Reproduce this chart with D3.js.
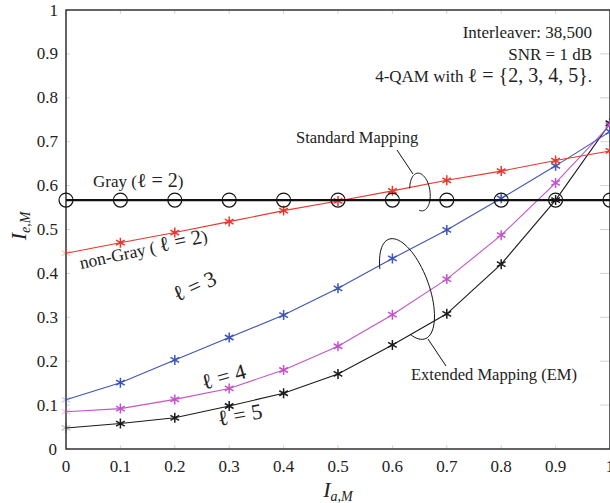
<!DOCTYPE html>
<html>
<head>
<meta charset="utf-8">
<script src="https://cdn.jsdelivr.net/npm/d3@7"></script>
<style>
  body { margin: 0; background: #fff; }
  svg { display: block; }
  text { font-family: "Liberation Serif", "Times New Roman", serif; fill: #222; }
</style>
</head>
<body>
<div id="chart"></div>
<script>
// Ia,M values on the x axis
const iaValues = [0, 0.1, 0.2, 0.3, 0.4, 0.5, 0.6, 0.7, 0.8, 0.9, 1.0];

// Ie,M for each mapping
const grayL2 = [0.567, 0.567, 0.567, 0.567, 0.567, 0.567, 0.567, 0.567, 0.567, 0.567, 0.567];
const nonGrayL2 = [0.446, 0.470, 0.493, 0.518, 0.543, 0.565, 0.588, 0.612, 0.633, 0.657, 0.679];
const emL3 = [0.112, 0.151, 0.203, 0.254, 0.305, 0.366, 0.434, 0.499, 0.571, 0.645, 0.723];
const emL4 = [0.085, 0.092, 0.113, 0.138, 0.180, 0.234, 0.306, 0.387, 0.487, 0.606, 0.738];
const emL5 = [0.048, 0.058, 0.071, 0.098, 0.127, 0.171, 0.237, 0.308, 0.421, 0.567, 0.742];

const xTicks = [0, 0.1, 0.2, 0.3, 0.4, 0.5, 0.6, 0.7, 0.8, 0.9, 1];
const yTicks = [0, 0.1, 0.2, 0.3, 0.4, 0.5, 0.6, 0.7, 0.8, 0.9, 1];

const W = 610, H = 503;
const plotL = 66, plotR = 610, plotT = 10, plotB = 449;

const x = d3.scaleLinear().domain([0, 1]).range([plotL, plotR]);
const y = d3.scaleLinear().domain([0, 1]).range([plotB, plotT]);

const svg = d3.select("#chart").append("svg")
    .attr("width", W)
    .attr("height", H);

// little inward ticks on all four sides
const tickLen = 4;
const ticks = svg.append("g").attr("stroke", "#c8c8c8").attr("stroke-width", 0.8);
xTicks.forEach(t => {
  ticks.append("line").attr("x1", x(t)).attr("x2", x(t)).attr("y1", plotB).attr("y2", plotB - tickLen);
  ticks.append("line").attr("x1", x(t)).attr("x2", x(t)).attr("y1", plotT).attr("y2", plotT + tickLen);
});
yTicks.forEach(t => {
  ticks.append("line").attr("x1", plotL).attr("x2", plotL + tickLen).attr("y1", y(t)).attr("y2", y(t));
  ticks.append("line").attr("x1", plotR - tickLen - 6).attr("x2", plotR).attr("y1", y(t)).attr("y2", y(t));
});

// frame (right edge falls outside the window)
svg.append("rect")
    .attr("x", plotL).attr("y", plotT)
    .attr("width", plotR - plotL).attr("height", plotB - plotT)
    .attr("fill", "none")
    .attr("stroke", "#333")
    .attr("stroke-width", 1.5);

const fmt = d => d === 1 ? "1" : (d === 0 ? "0" : d3.format(".1f")(d));

// tick labels
svg.append("g").selectAll("text")
  .data(xTicks)
  .enter().append("text")
    .attr("x", d => x(d))
    .attr("y", 472)
    .attr("text-anchor", "middle")
    .attr("font-size", 17)
    .text(fmt);

svg.append("g").selectAll("text")
  .data(yTicks)
  .enter().append("text")
    .attr("x", d => d === 0 ? 57 : 58)
    .attr("y", d => y(d) + 5.5)
    .attr("text-anchor", "end")
    .attr("font-size", 17)
    .text(fmt);

// axis titles
const xl = svg.append("text")
    .attr("x", 338).attr("y", 497)
    .attr("text-anchor", "middle")
    .attr("font-size", 22)
    .attr("font-style", "italic");
xl.append("tspan").text("I");
xl.append("tspan").attr("font-size", 14).attr("dy", 4).text("a,M");

const yl = svg.append("text")
    .attr("transform", "translate(26,226) rotate(-90)")
    .attr("text-anchor", "middle")
    .attr("font-size", 22)
    .attr("font-style", "italic");
yl.append("tspan").text("I");
yl.append("tspan").attr("font-size", 14).attr("dy", 4).text("e,M");

// series
const line = d3.line()
    .x((d, i) => x(iaValues[i]))
    .y(d => y(d));

const series = [
  { vals: emL5, color: "#1a1a1a", mark: "star" },
  { vals: emL4, color: "#c254c8", mark: "star" },
  { vals: emL3, color: "#3d55b8", mark: "star" },
  { vals: nonGrayL2, color: "#e8362c", mark: "star" },
  { vals: grayL2, color: "#111", mark: "circle", width: 2.1 }
];

const r = 5;
const c30 = r * Math.cos(Math.PI / 6), s30 = r * Math.sin(Math.PI / 6);
const starPath = `M0,${-r}L0,${r}M${-c30},${-s30}L${c30},${s30}M${-c30},${s30}L${c30},${-s30}`;

series.forEach(s => {
  svg.append("path")
      .datum(s.vals)
      .attr("d", line)
      .attr("fill", "none")
      .attr("stroke", s.color)
      .attr("stroke-width", s.width || 1.1);

  const g = svg.append("g");
  s.vals.forEach((v, i) => {
    if (s.mark === "circle") {
      g.append("circle")
          .attr("cx", x(iaValues[i])).attr("cy", y(v))
          .attr("r", 7)
          .attr("fill", "none")
          .attr("stroke", "#111")
          .attr("stroke-width", 1.2);
    } else {
      g.append("path")
          .attr("d", starPath)
          .attr("transform", `translate(${x(iaValues[i])},${y(v)})`)
          .attr("stroke", s.color)
          .attr("stroke-width", 1.5)
          .attr("opacity", i === 0 ? 0.25 : 1);
    }
  });
});

// partial ellipses for the callouts
function ellipseArc(cx, cy, rx, ry, rot, t0, t1) {
  const a = rot * Math.PI / 180;
  const pts = d3.range(0, 61).map(k => {
    const t = (t0 + (t1 - t0) * k / 60) * Math.PI / 180;
    const ex = rx * Math.cos(t), ey = ry * Math.sin(t);
    return [cx + ex * Math.cos(a) - ey * Math.sin(a), cy + ex * Math.sin(a) + ey * Math.cos(a)];
  });
  return d3.line()(pts);
}

const notes = svg.append("g").attr("fill", "none").attr("stroke", "#111").attr("stroke-width", 1);
notes.append("path").attr("d", ellipseArc(420, 192, 10, 19, -8, 195, 470));
notes.append("line").attr("x1", 397).attr("y1", 150).attr("x2", 413).attr("y2", 174);
notes.append("path").attr("d", ellipseArc(407, 289, 22, 53, -20, 212, 484));
notes.append("line").attr("x1", 428).attr("y1", 339).attr("x2", 446).attr("y2", 366);

svg.append("text").attr("x", 296).attr("y", 143).attr("font-size", 16.5).text("Standard Mapping");
svg.append("text").attr("x", 411).attr("y", 380).attr("font-size", 16.5).text("Extended Mapping (EM)");

// info box text, top right
svg.append("text").attr("x", 592).attr("y", 38).attr("text-anchor", "end").attr("font-size", 17).text("Interleaver: 38,500");
svg.append("text").attr("x", 592).attr("y", 60).attr("text-anchor", "end").attr("font-size", 17).text("SNR = 1 dB");
const qam = svg.append("text").attr("x", 592).attr("y", 82).attr("text-anchor", "end").attr("font-size", 17);
qam.append("tspan").text("4-QAM with ");
qam.append("tspan").attr("font-size", 20).text("ℓ = {2, 3, 4, 5}");
qam.append("tspan").text(".");

// curve labels
const gl = svg.append("text").attr("x", 93).attr("y", 187).attr("font-size", 17);
gl.append("tspan").text("Gray (");
gl.append("tspan").attr("font-size", 20).text("ℓ = 2");
gl.append("tspan").text(")");

const ngl = svg.append("text").attr("transform", "translate(81,269) rotate(-12)").attr("font-size", 17.5);
ngl.append("tspan").text("non-Gray ( ");
ngl.append("tspan").attr("font-size", 21).text("ℓ = 2");
ngl.append("tspan").text(")");

svg.append("text").attr("transform", "translate(177,302) rotate(-24)").attr("font-size", 22).text("ℓ = 3");
svg.append("text").attr("transform", "translate(204,390) rotate(-16)").attr("font-size", 22).text("ℓ = 4");
svg.append("text").attr("transform", "translate(219,426) rotate(-10)").attr("font-size", 22).text("ℓ = 5");
</script>
</body>
</html>
